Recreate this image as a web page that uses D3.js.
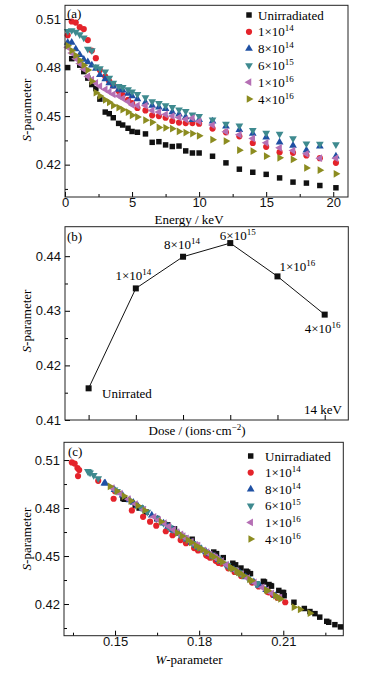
<!DOCTYPE html>
<html>
<head>
<meta charset="utf-8">
<script src="https://cdn.jsdelivr.net/npm/d3@7"></script>
<style>
body { margin: 0; background: #fff; }
svg { display: block; font-family: "Liberation Serif", "Times New Roman", serif; }
</style>
</head>
<body>
<svg id="chart" width="371" height="675"></svg>
<script>
//Datos
const energy = [0.2, 0.5, 0.8, 1.1, 1.4, 1.7, 2.0, 2.3, 2.6, 3.0, 3.3, 3.6, 4.0, 4.3, 4.7, 5.0, 5.4, 6.0, 6.5, 7.0, 7.5, 8.0, 8.5, 9.0, 9.5, 10.0, 11, 12, 13, 14, 15, 16, 17, 18, 19, 20.2];

const sUnirr = [0.4800, 0.4855, 0.4860, 0.4815, 0.4775, 0.4735, 0.4695, 0.4670, 0.4605, 0.4525, 0.4515, 0.4490, 0.4455, 0.4445, 0.4425, 0.4405, 0.4400, 0.4390, 0.4338, 0.4342, 0.4322, 0.4312, 0.4315, 0.4285, 0.4272, 0.4272, 0.4252, 0.4211, 0.4172, 0.4153, 0.4140, 0.4118, 0.4092, 0.4086, 0.4071, 0.4057];
const s1e14 = [0.5000, 0.5085, 0.5078, 0.5050, 0.5038, 0.4970, 0.4905, 0.4858, 0.4785, 0.4745, 0.4715, 0.4690, 0.4655, 0.4630, 0.4600, 0.4580, 0.4550, 0.4535, 0.4505, 0.4500, 0.4490, 0.4470, 0.4460, 0.4457, 0.4457, 0.4453, 0.4423, 0.4400, 0.4375, 0.4334, 0.4310, 0.4277, 0.4273, 0.4257, 0.4240, 0.4211];
const s8e14 = [0.4955, 0.4955, 0.4915, 0.4880, 0.4850, 0.4835, 0.4815, 0.4795, 0.4755, 0.4730, 0.4705, 0.4685, 0.4665, 0.4660, 0.4640, 0.4625, 0.4605, 0.4585, 0.4565, 0.4555, 0.4545, 0.4525, 0.4512, 0.4495, 0.4478, 0.4478, 0.4468, 0.4437, 0.4416, 0.4392, 0.4369, 0.4338, 0.4318, 0.4289, 0.4314, 0.4252];
const s6e15 = [0.5025, 0.5030, 0.5020, 0.5005, 0.4985, 0.4915, 0.4905, 0.4805, 0.4795, 0.4775, 0.4735, 0.4705, 0.4685, 0.4678, 0.4665, 0.4650, 0.4635, 0.4615, 0.4590, 0.4580, 0.4565, 0.4555, 0.4540, 0.4530, 0.4508, 0.4500, 0.4478, 0.4451, 0.4441, 0.4412, 0.4396, 0.4390, 0.4361, 0.4330, 0.4328, 0.4324];
const s1e16 = [0.4925, 0.4890, 0.4855, 0.4825, 0.4790, 0.4745, 0.4725, 0.4705, 0.4685, 0.4665, 0.4650, 0.4635, 0.4625, 0.4610, 0.4590, 0.4570, 0.4565, 0.4565, 0.4535, 0.4525, 0.4510, 0.4500, 0.4492, 0.4480, 0.4488, 0.4468, 0.4445, 0.4404, 0.4385, 0.4362, 0.4335, 0.4304, 0.4287, 0.4267, 0.4240, 0.4240];
const s4e16 = [0.4935, 0.4905, 0.4875, 0.4845, 0.4815, 0.4785, 0.4715, 0.4645, 0.4625, 0.4600, 0.4585, 0.4565, 0.4553, 0.4540, 0.4525, 0.4505, 0.4495, 0.4475, 0.4462, 0.4430, 0.4428, 0.4422, 0.4405, 0.4398, 0.4392, 0.4378, 0.4354, 0.4346, 0.4289, 0.4283, 0.4252, 0.4242, 0.4232, 0.4180, 0.4166, 0.4143];

const wUnirr = [0.1586, 0.1533, 0.1528, 0.1572, 0.1611, 0.1649, 0.1688, 0.1712, 0.1775, 0.1852, 0.1862, 0.1886, 0.1920, 0.1930, 0.1949, 0.1968, 0.1973, 0.1983, 0.2033, 0.2029, 0.2049, 0.2058, 0.2055, 0.2084, 0.2097, 0.2101, 0.2103, 0.2138, 0.2175, 0.2195, 0.2213, 0.2230, 0.2255, 0.2262, 0.2284, 0.2304];
const w1e14 = [0.1368, 0.1346, 0.1356, 0.1366, 0.1372, 0.1440, 0.1500, 0.1495, 0.1560, 0.1600, 0.1625, 0.1647, 0.1681, 0.1705, 0.1734, 0.1753, 0.1782, 0.1796, 0.1825, 0.1830, 0.1839, 0.1859, 0.1868, 0.1871, 0.1875, 0.1880, 0.1904, 0.1926, 0.1950, 0.1989, 0.2012, 0.2044, 0.2048, 0.2063, 0.2079, 0.2107];
const w8e14 = [0.1465, 0.1462, 0.1498, 0.1527, 0.1552, 0.1565, 0.1581, 0.1598, 0.1631, 0.1652, 0.1673, 0.1689, 0.1706, 0.1710, 0.1727, 0.1739, 0.1756, 0.1772, 0.1789, 0.1798, 0.1807, 0.1825, 0.1837, 0.1852, 0.1868, 0.1872, 0.1877, 0.1905, 0.1924, 0.1946, 0.1966, 0.1995, 0.2013, 0.2039, 0.2016, 0.2072];
const w6e15 = [0.1407, 0.1403, 0.1411, 0.1424, 0.1440, 0.1498, 0.1507, 0.1590, 0.1598, 0.1615, 0.1648, 0.1673, 0.1689, 0.1695, 0.1706, 0.1718, 0.1731, 0.1747, 0.1768, 0.1776, 0.1789, 0.1798, 0.1812, 0.1821, 0.1841, 0.1848, 0.1868, 0.1892, 0.1901, 0.1928, 0.1942, 0.1947, 0.1974, 0.2002, 0.2004, 0.2007];
const w1e16 = [0.1490, 0.1519, 0.1548, 0.1573, 0.1602, 0.1639, 0.1656, 0.1676, 0.1692, 0.1709, 0.1721, 0.1735, 0.1743, 0.1755, 0.1772, 0.1788, 0.1793, 0.1796, 0.1816, 0.1828, 0.1839, 0.1850, 0.1855, 0.1866, 0.1859, 0.1880, 0.1898, 0.1935, 0.1952, 0.1973, 0.1997, 0.2025, 0.2041, 0.2059, 0.2083, 0.2088];
const w4e16 = [0.1482, 0.1507, 0.1532, 0.1556, 0.1581, 0.1606, 0.1664, 0.1722, 0.1739, 0.1760, 0.1772, 0.1789, 0.1800, 0.1812, 0.1825, 0.1843, 0.1852, 0.1871, 0.1882, 0.1911, 0.1913, 0.1919, 0.1934, 0.1940, 0.1946, 0.1958, 0.1980, 0.1987, 0.2039, 0.2044, 0.2072, 0.2081, 0.2090, 0.2138, 0.2160, 0.2195];

const seriesBase = ['Unirradiated', '1×10', '8×10', '6×10', '1×10', '4×10'];
const seriesExp = ['', '14', '14', '15', '16', '16'];

const doseBase = ['Unirrated', '1×10', '8×10', '6×10', '1×10', '4×10'];
const doseExp = ['', '14', '14', '15', '16', '16'];
const doseS = [0.4158, 0.4341, 0.4399, 0.4424, 0.4363, 0.4293];

const energyTicks = [0, 5, 10, 15, 20];
const energyMinor = [2.5, 7.5, 12.5, 17.5];
const sTicks = [0.42, 0.45, 0.48, 0.51];
const sMinor = [0.405, 0.435, 0.465, 0.495];
const doseSTicks = [0.41, 0.42, 0.43, 0.44];
const doseSMinor = [0.415, 0.425, 0.435];
const wTicks = [0.15, 0.18, 0.21];
const wMinor = [0.135, 0.165, 0.195, 0.225];

//Estilos
const COLORS = ['#111111', '#e4232b', '#1f50a3', '#3e8a8f', '#b56fb4', '#8c8c20'];
const SHAPES = [
    { type: d3.symbolSquare, size: 30, rot: 0 },
    { type: d3.symbolCircle, size: 30, rot: 0 },
    { type: d3.symbolTriangle, size: 26, rot: 0 },
    { type: d3.symbolTriangle, size: 26, rot: 180 },
    { type: d3.symbolTriangle, size: 26, rot: -90 },
    { type: d3.symbolTriangle, size: 26, rot: 90 }
];
const FS = 13, FS_SUP = 9;

const svg = d3.select('#chart');

const sSeries = [sUnirr, s1e14, s8e14, s6e15, s1e16, s4e16];
const wSeries = [wUnirr, w1e14, w8e14, w6e15, w1e16, w4e16];

function addSupText(g, x, y, base, exp, anchor) {
    let t = g.append('text')
        .attr('x', x).attr('y', y)
        .attr('font-size', FS)
        .attr('text-anchor', anchor || 'start')
        .text(base);
    if (exp) {
        t.append('tspan').attr('font-size', FS_SUP).attr('dy', -5).text(exp);
    }
    return t;
}

function drawMarker(g, i, x, y) {
    let s = SHAPES[i];
    g.append('path')
        .attr('d', d3.symbol().type(s.type).size(s.size)())
        .attr('transform', 'translate(' + x + ',' + y + ') rotate(' + s.rot + ')')
        .attr('fill', COLORS[i]);
}

function yAxisLeft(g, y, left, major, minor) {
    g.append('g')
        .attr('transform', 'translate(' + left + ',0)')
        .call(d3.axisLeft(y).tickValues(major).tickSize(-5).tickPadding(4).tickFormat(d3.format('.2f')))
        .call(function(a) {
            a.select('.domain').remove();
            a.selectAll('text').attr('font-size', FS).attr('font-family', null).attr('fill', '#111');
        });
    g.append('g')
        .attr('transform', 'translate(' + left + ',0)')
        .call(d3.axisLeft(y).tickValues(minor).tickSize(-3).tickFormat(''))
        .call(function(a) { a.select('.domain').remove(); });
}

function xAxisBottom(g, x, bottom, major, minor, fmt, pad) {
    let ax = d3.axisBottom(x).tickValues(major).tickSize(-5).tickPadding(pad);
    ax.tickFormat(fmt);
    g.append('g')
        .attr('transform', 'translate(0,' + bottom + ')')
        .call(ax)
        .call(function(a) {
            a.select('.domain').remove();
            a.selectAll('text').attr('font-size', FS).attr('font-family', null).attr('fill', '#111');
        });
    if (minor) {
        g.append('g')
            .attr('transform', 'translate(0,' + bottom + ')')
            .call(d3.axisBottom(x).tickValues(minor).tickSize(-3).tickFormat(''))
            .call(function(a) { a.select('.domain').remove(); });
    }
}

function frame(g, l, t, r, b) {
    g.append('rect')
        .attr('x', l).attr('y', t)
        .attr('width', r - l).attr('height', b - t)
        .attr('fill', 'none').attr('stroke', '#222').attr('stroke-width', 1);
}

function yTitle(g, cx, cy) {
    let t = g.append('text')
        .attr('transform', 'translate(' + cx + ',' + cy + ') rotate(-90)')
        .attr('text-anchor', 'middle')
        .attr('font-size', FS);
    t.append('tspan').attr('font-style', 'italic').text('S');
    t.append('tspan').text('-parameter');
}

function legend(g, x0, xt, y0, step) {
    seriesBase.forEach(function(b, i) {
        drawMarker(g, i, x0, y0 + i * step);
        addSupText(g, xt, y0 + i * step + 4.5, b, seriesExp[i], 'start');
    });
}

/////
// Panel (a)
/////
(function() {
    let L = 65, R = 348, T = 5.3, B = 197;
    let g = svg.append('g');
    let x = d3.scaleLinear().domain([0, 21.1]).range([L, R]);
    let y = d3.scaleLinear().domain([0.40, 0.5185]).range([B, T]);

    yAxisLeft(g, y, L, sTicks, sMinor);
    xAxisBottom(g, x, B, energyTicks, energyMinor, d3.format('d'), 1);

    sSeries.forEach(function(arr, i) {
        arr.forEach(function(s, j) { drawMarker(g, i, x(energy[j]), y(s)); });
    });

    frame(g, L, T, R, B);
    g.append('text').attr('x', 67).attr('y', 17.5).attr('font-size', FS).text('(a)');
    g.append('text').attr('x', 189).attr('y', 223.5).attr('text-anchor', 'middle').attr('font-size', FS).text('Energy / keV');
    yTitle(g, 31, 110);
    legend(g, 249, 258, 15, 16.8);
})();

/////
// Panel (b)
/////
(function() {
    let L = 65, R = 348.3, T = 226.7, B = 420;
    let g = svg.append('g');
    let idx = doseS.map(function(d, i) { return i; });
    let x = d3.scalePoint().domain(idx).range([L, R]).padding(0.5);
    let y = d3.scaleLinear().domain([0.41, 0.4454]).range([B, T]);

    yAxisLeft(g, y, L, doseSTicks, doseSMinor);
    xAxisBottom(g, x, B, idx, null, function() { return ''; }, 3);

    g.append('path')
        .datum(doseS)
        .attr('d', d3.line().x(function(d, i) { return x(i); }).y(function(d) { return y(d); }))
        .attr('fill', 'none').attr('stroke', '#111').attr('stroke-width', 1);

    doseS.forEach(function(s, i) {
        g.append('rect')
            .attr('x', x(i) - 3).attr('y', y(s) - 3)
            .attr('width', 6).attr('height', 6)
            .attr('fill', '#111');
    });

    //Posición de las etiquetas respecto a cada punto
    let labelPos = [
        { dx: 13.4, dy: 9.5, anchor: 'start' },
        { dx: -2.5, dy: -8.8, anchor: 'middle' },
        { dx: -1, dy: -7.7, anchor: 'middle' },
        { dx: 7.5, dy: -3.5, anchor: 'middle' },
        { dx: 2, dy: -5.5, anchor: 'start' },
        { dx: -2, dy: 18.3, anchor: 'middle' }
    ];
    doseS.forEach(function(s, i) {
        let p = labelPos[i];
        addSupText(g, x(i) + p.dx, y(s) + p.dy, doseBase[i], doseExp[i], p.anchor);
    });

    frame(g, L, T, R, B);
    g.append('text').attr('x', 67).attr('y', 241).attr('font-size', FS).text('(b)');
    g.append('text').attr('x', 342).attr('y', 414).attr('text-anchor', 'end').attr('font-size', FS).text('14 keV');
    let dl = g.append('text').attr('x', 197).attr('y', 435).attr('text-anchor', 'middle').attr('font-size', FS).text('Dose / (ions·cm');
    dl.append('tspan').attr('font-size', FS_SUP).attr('dy', -5).text('−2');
    dl.append('tspan').attr('dy', 5).text(')');
    yTitle(g, 31, 321);
})();

/////
// Panel (c)
/////
(function() {
    let L = 64, R = 343.3, T = 442.3, B = 635.7;
    let g = svg.append('g');
    let x = d3.scaleLinear().domain([0.1318, 0.2314]).range([L, R]);
    let y = d3.scaleLinear().domain([0.4002, 0.5211]).range([B, T]);

    yAxisLeft(g, y, L, sTicks, sMinor);
    xAxisBottom(g, x, B, wTicks, wMinor, d3.format('.2f'), 1);

    sSeries.forEach(function(arr, i) {
        arr.forEach(function(s, j) { drawMarker(g, i, x(wSeries[i][j]), y(s)); });
    });

    frame(g, L, T, R, B);
    g.append('text').attr('x', 68).attr('y', 456).attr('font-size', FS).text('(c)');
    let wl = g.append('text').attr('x', 189).attr('y', 664).attr('text-anchor', 'middle').attr('font-size', FS);
    wl.append('tspan').attr('font-style', 'italic').text('W');
    wl.append('tspan').text('-parameter');
    yTitle(g, 31, 539);
    legend(g, 250.7, 265, 456, 16.6);
})();
</script>
</body>
</html>
